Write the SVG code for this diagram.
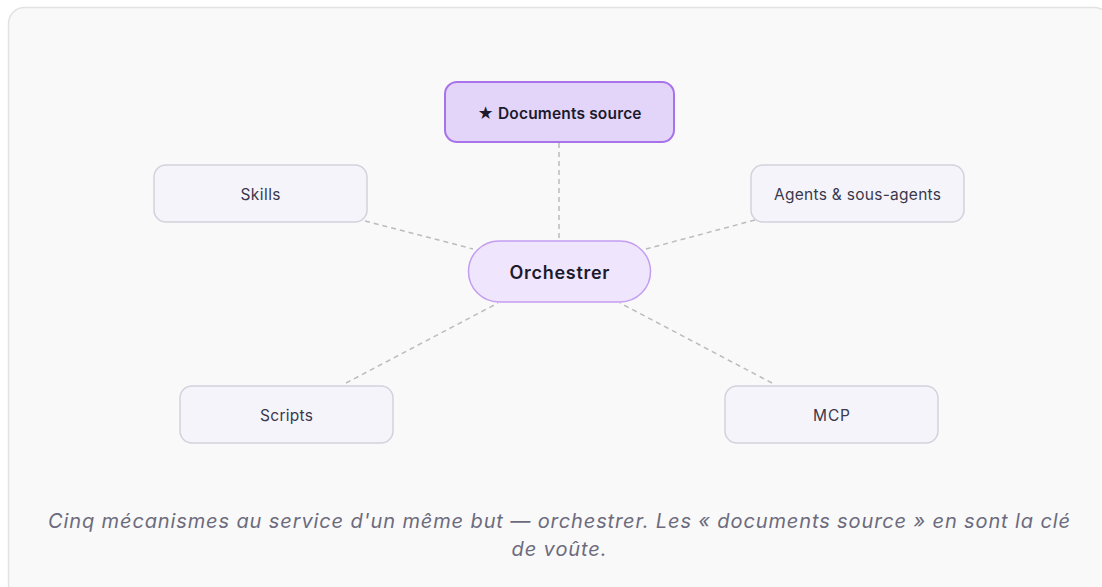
<svg xmlns="http://www.w3.org/2000/svg" width="1102" height="587" viewBox="0 0 1102 587">
  <style>
    .frame { fill: #f9f9f9; stroke: #e2e2e4; stroke-width: 1.5; }
    .node { fill: #f5f4fb; stroke: #d3d1dc; stroke-width: 1.5; }
    .key { fill: #e3d5fa; stroke: #a872ea; stroke-width: 2; }
    .hub { fill: #efe6fd; stroke: #c49df1; stroke-width: 1.5; }
    .link { stroke: #bcbcc0; stroke-width: 1.5; stroke-dasharray: 5 4; fill: none; }
    .label { font-family: Inter, "Liberation Sans", sans-serif; font-size: 15.5px; fill: #3a384c; text-anchor: middle; dominant-baseline: central; }
    .bold { font-weight: 600; fill: #1c1a2c; }
    .caption { font-family: Inter, "Liberation Sans", sans-serif; font-size: 20px; font-style: italic; fill: #6c6b7d; text-anchor: middle; }
  </style>
  <rect width="1102" height="587" fill="#ffffff"/>
  <rect class="frame" x="8.5" y="7.5" width="1102" height="592" rx="16"/>

  <g id="connectors">
    <line class="link" x1="559" y1="143" x2="559" y2="241"/>
    <line class="link" x1="365" y1="221" x2="473" y2="249"/>
    <line class="link" x1="755" y1="220" x2="646" y2="249"/>
    <line class="link" x1="346" y1="383" x2="498" y2="303"/>
    <line class="link" x1="772" y1="383" x2="620" y2="303"/>
  </g>

  <g id="documents-source">
    <rect class="key" x="445" y="82" width="229" height="60" rx="12"/>
    <text class="label bold" x="559.5" y="113" textLength="164" lengthAdjust="spacing">★ Documents source</text>
  </g>

  <g id="orchestrer">
    <rect class="hub" x="468.5" y="241" width="182" height="61" rx="30.5"/>
    <text class="label bold" x="559.5" y="272" style="font-size:18px" textLength="100" lengthAdjust="spacing">Orchestrer</text>
  </g>

  <g id="skills">
    <rect class="node" x="154" y="165" width="213" height="57" rx="12"/>
    <text class="label" x="260.5" y="194" textLength="40" lengthAdjust="spacing">Skills</text>
  </g>

  <g id="agents">
    <rect class="node" x="751" y="165" width="213" height="57" rx="12"/>
    <text class="label" x="857.5" y="194" textLength="167" lengthAdjust="spacing">Agents &amp; sous-agents</text>
  </g>

  <g id="scripts">
    <rect class="node" x="180" y="386" width="213" height="57" rx="12"/>
    <text class="label" x="286.5" y="415" textLength="53" lengthAdjust="spacing">Scripts</text>
  </g>

  <g id="mcp">
    <rect class="node" x="725" y="386" width="213" height="57" rx="12"/>
    <text class="label" x="831.5" y="415" textLength="37" lengthAdjust="spacing">MCP</text>
  </g>

  <g id="caption">
    <text class="caption" x="559" y="528" textLength="1022" lengthAdjust="spacing">Cinq mécanismes au service d'un même but — orchestrer. Les « documents source » en sont la clé</text>
    <text class="caption" x="559" y="556" textLength="95" lengthAdjust="spacing">de voûte.</text>
  </g>
</svg>
